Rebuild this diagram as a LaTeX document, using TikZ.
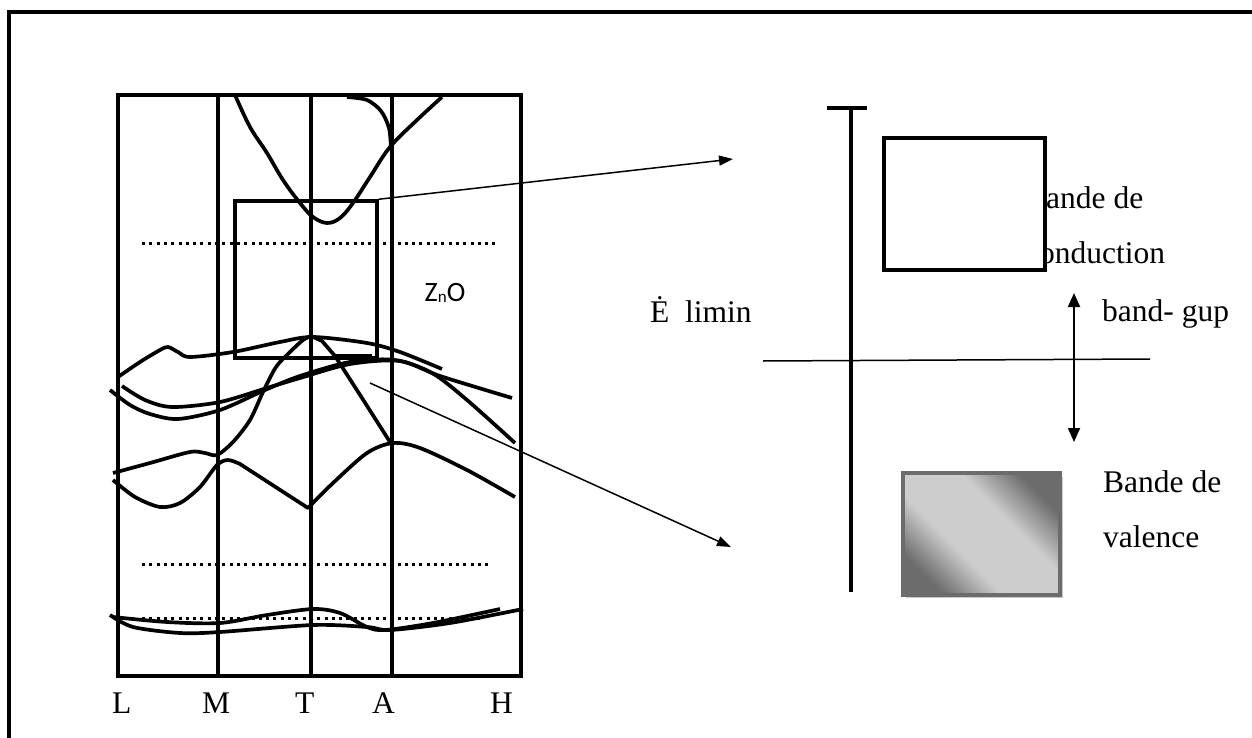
\documentclass[tikz,border=0pt]{standalone}
\usepackage{fontspec}
\setmainfont{Liberation Serif}
\newfontfamily\labelsans{Carlito}
\usetikzlibrary{arrows.meta}
\definecolor{vbgray}{RGB}{108,108,108}
\definecolor{vblight}{RGB}{205,205,205}
\definecolor{vbshadow}{RGB}{200,200,200}
\pgfdeclareverticalshading{vbshade}{100bp}{color(0bp)=(vbgray); color(25bp)=(vbgray); color(40bp)=(vblight); color(60bp)=(vblight); color(75bp)=(vbgray); color(100bp)=(vbgray)}

\begin{document}
\begin{tikzpicture}[x=1pt, y=-1pt,
    frame/.style={line width=4pt},
    band/.style={line width=3.7pt, line join=round},
    level/.style={line width=3pt, dash pattern=on 3pt off 4.3pt},
    pointer/.style={line width=1.5pt, -{Triangle[length=14pt,width=10pt]}},
    gap/.style={line width=2pt, {Triangle[length=14pt,width=12pt]}-{Triangle[length=14pt,width=12pt]}},
    txt/.style={anchor=base west, inner sep=0pt, font=\fontsize{31.5}{38}\selectfont},
    zoombox/.style={draw, line width=3.5pt, minimum width=142pt, minimum height=157pt, inner sep=0pt}
  ]
  \useasboundingbox (0,0) rectangle (1252,738);

  % page frame (top and left only)
  \draw[frame] (7,12) -- (1252,12);
  \draw[frame] (9,10) -- (9,738);

  % band structure panel
  \draw[frame] (118,95) rectangle (521,676);
  \foreach \x in {218,311,392}
    \draw[frame] (\x,95) -- (\x,676);

  \draw[level] (142,243) -- (497,243);
  \draw[level] (142,564) -- (488,564);
  \draw[level] (142,618) -- (480,618);

  % conduction band
  \draw[band] plot[smooth, tension=0.6] coordinates {(235,95) (250,127) (267,153) (283,180) (300,203) (313,217) (327,223) (340,218) (353,203) (370,177) (390,147) (417,120) (442,97)};
  \draw[band] plot[smooth] coordinates {(347,97) (367,100) (381,111) (389,128) (391,148)};

  % valence bands
  \draw[band] plot[smooth] coordinates {(118,377) (140,362) (160,350) (168,347) (178,352) (190,357) (233,352) (280,342) (313,337) (367,343) (400,352) (442,369)};
  \draw[band] plot[smooth] coordinates {(110,390) (130,405) (150,414) (178,419) (220,410) (265,390) (300,376) (350,362) (395,360) (432,373) (467,400) (515,443)};
  \draw[band] plot[smooth] coordinates {(122,386) (145,400) (172,407) (220,402) (270,387) (300,378) (350,364) (400,361) (440,376) (512,398)};
  \draw[band] plot[smooth] coordinates {(113,473) (150,463) (190,452) (205,453) (217,455) (233,442) (250,420) (263,392) (276,367) (290,352) (303,340) (311,336)}
    -- (322,341) -- (335,356) -- (362,398) -- (390,442);
  \draw[band] plot[smooth] coordinates {(113,480) (135,497) (160,507) (180,503) (200,487) (217,465) (228,460) (240,464)}
    -- (308,508) -- plot[smooth] coordinates {(308,508) (333,483) (367,453) (393,443) (420,448) (467,470) (515,497)};
  \draw[band] plot[smooth] coordinates {(110,615) (133,627) (180,633) (220,632) (313,625) (367,627) (390,630) (450,623) (523,609)};
  \draw[band] plot[smooth] coordinates {(113,617) (167,622) (220,623) (267,615) (313,609) (340,613) (367,627) (385,630) (433,623) (500,609)};

  \node[zoombox] (zoom) at (306,279.5) {};
  \draw[band] (333,356) -- (372,356);
  \node[font=\labelsans\fontsize{28}{32}\selectfont, inner sep=0pt] (zno) at (445,293) {Z\raisebox{-1pt}{\fontsize{17}{18}\selectfont n}O};

  \node[txt] (kL) at (112,713) {L};
  \node[txt] (kM) at (202,713) {M};
  \node[txt] (kT) at (295,713) {T};
  \node[txt] (kA) at (372,713) {A};
  \node[txt] (kH) at (490,713) {H};

  % energy scheme
  \coordinate (cbtip) at (733,159);
  \coordinate (vbfoot) at (370,383);
  \coordinate (vbtip) at (731,547);
  \draw[pointer] (zoom.north east) -- (cbtip);
  \draw[pointer] (vbfoot) -- (vbtip);

  \draw[frame] (851,108) -- (851,592);
  \draw[frame] (827,108) -- (867,108);
  \draw[line width=1.5pt] (763,361) -- (1150,359);

  \node[txt] (cbtxt1) at (1025,208) {Bande de};
  \node[txt] (cbtxt2) at (1025,263) {conduction};
  \node[draw, fill=white, line width=4pt, minimum width=161pt, minimum height=132pt, inner sep=0pt] (cb) at (964.5,204) {};

  \node[txt] (elim) at (650,322) {Ė\ \ limin};
  \node[txt] (gaptxt) at (1102,321) {band- gup};
  \coordinate (gaptop) at (1074,293);
  \coordinate (gapbot) at (1074,442);
  \draw[gap] (gapbot) -- (gaptop);

  \fill[vbshadow] (906,477) rectangle (1063,598);
  \shade[shading=vbshade, shading angle=-45] (903,473) rectangle (1060,595);
  \node[draw=vbgray, line width=4pt, minimum width=157pt, minimum height=122pt, inner sep=0pt] (vb) at (981.5,534) {};
  \node[txt] (vbtxt1) at (1103,492) {Bande de};
  \node[txt] (vbtxt2) at (1103,547) {valence};
\end{tikzpicture}
\end{document}
